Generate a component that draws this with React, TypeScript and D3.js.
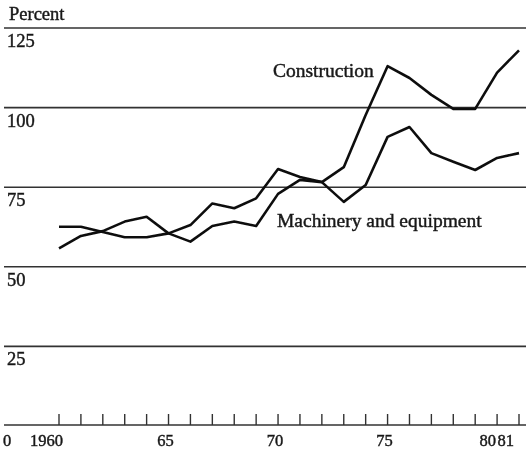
import React, { useEffect, useRef } from 'react';
import * as d3 from 'd3';

const years = d3.range(1960, 1982);
const machinery = [62.6, 62.6, 60.9, 59.3, 59.3, 60.5, 63.1, 69.9, 68.4, 71.5, 80.7, 78.2, 76.6, 70.4, 75.7, 90.8, 93.9, 85.7, 83, 80.4, 84.2, 85.7];
const construction = [55.8, 59.7, 61.2, 64.2, 65.7, 60.5, 57.9, 62.8, 64.2, 62.8, 72.9, 77.3, 76.6, 81.3, 97.7, 113, 109.3, 104, 99.6, 99.6, 111, 118];
const yTicks = [25, 50, 75, 100, 125];
const xLabels = [
    { year: 1960, text: '1960' },
    { year: 1965, text: '65' },
    { year: 1970, text: '70' },
    { year: 1975, text: '75' },
    { year: 1980, text: '80' },
    { year: 1981, text: '81' },
];

const W = 526;
const H = 451;

const App = () => {
    const ref = useRef(null);

    useEffect(() => {
        const svg = d3.select(ref.current);
        svg.selectAll('*').remove();

        const x = d3.scaleLinear().domain([1960, 1981]).range([59, 519]);
        const y = d3.scaleLinear().domain([0, 125]).range([426, 28]);

        const font = '"Liberation Serif", "DejaVu Serif", serif';
        const ink = '#1a1a1a';

        const defs = svg.append('defs');
        defs.append('filter').attr('id', 'scan')
            .append('feGaussianBlur').attr('stdDeviation', 0.55);

        const g = svg.append('g').attr('filter', 'url(#scan)');

        const label = (sel, size) => sel
            .attr('font-family', font)
            .attr('font-size', size)
            .attr('fill', ink)
            .attr('stroke', ink)
            .attr('stroke-width', 0.45);

        // gridlines
        g.selectAll('line.grid')
            .data(yTicks)
            .enter()
            .append('line')
            .attr('x1', 4)
            .attr('x2', W)
            .attr('y1', d => y(d))
            .attr('y2', d => y(d))
            .attr('stroke', '#333')
            .attr('stroke-width', 1.6);

        g.selectAll('text.ylab')
            .data(yTicks)
            .enter()
            .append('text')
            .attr('x', 7)
            .attr('y', d => y(d) + 19)
            .call(label, 18.5)
            .text(d => d);

        g.append('text')
            .attr('x', 9)
            .attr('y', 20)
            .call(label, 18.5)
            .text('Percent');

        // baseline axis with year ticks
        g.append('line')
            .attr('x1', 4)
            .attr('x2', W)
            .attr('y1', y(0) - 1)
            .attr('y2', y(0) - 1)
            .attr('stroke', '#333')
            .attr('stroke-width', 1.6);

        g.selectAll('line.tick')
            .data(years)
            .enter()
            .append('line')
            .attr('x1', d => x(d))
            .attr('x2', d => x(d))
            .attr('y1', y(0) - 1)
            .attr('y2', y(0) - 12)
            .attr('stroke', '#333')
            .attr('stroke-width', 1.4);

        g.append('text')
            .attr('x', 3)
            .attr('y', 446)
            .call(label, 16.5)
            .text('0');

        const labelX = d => {
            if (d.year === 1960) return x(d.year) + 4;
            if (d.year === 1980) return x(d.year) - 1;
            if (d.year === 1981) return x(d.year) - 5;
            return x(d.year) - 3;
        };

        g.selectAll('text.xlab')
            .data(xLabels)
            .enter()
            .append('text')
            .attr('x', labelX)
            .attr('y', 446)
            .attr('text-anchor', d => d.year === 1960 || d.year >= 1980 ? 'end' : 'middle')
            .call(label, 16.5)
            .text(d => d.text);

        // series
        const line = d3.line()
            .x((d, i) => x(years[i]))
            .y(d => y(d));

        [machinery, construction].forEach(series => {
            g.append('path')
                .datum(series)
                .attr('d', line)
                .attr('fill', 'none')
                .attr('stroke', '#111')
                .attr('stroke-width', 2.6)
                .attr('stroke-linejoin', 'round');
        });

        g.append('text')
            .attr('x', 273)
            .attr('y', 77)
            .call(label, 19.5)
            .text('Construction');

        g.append('text')
            .attr('x', 277)
            .attr('y', 227)
            .call(label, 19.5)
            .text('Machinery and equipment');
    }, []);

    return (
        <svg ref={ref} width={W} height={H}
            style={{ position: 'absolute', left: 0, top: 0, background: '#fff' }}></svg>
    );
};

export default App;
